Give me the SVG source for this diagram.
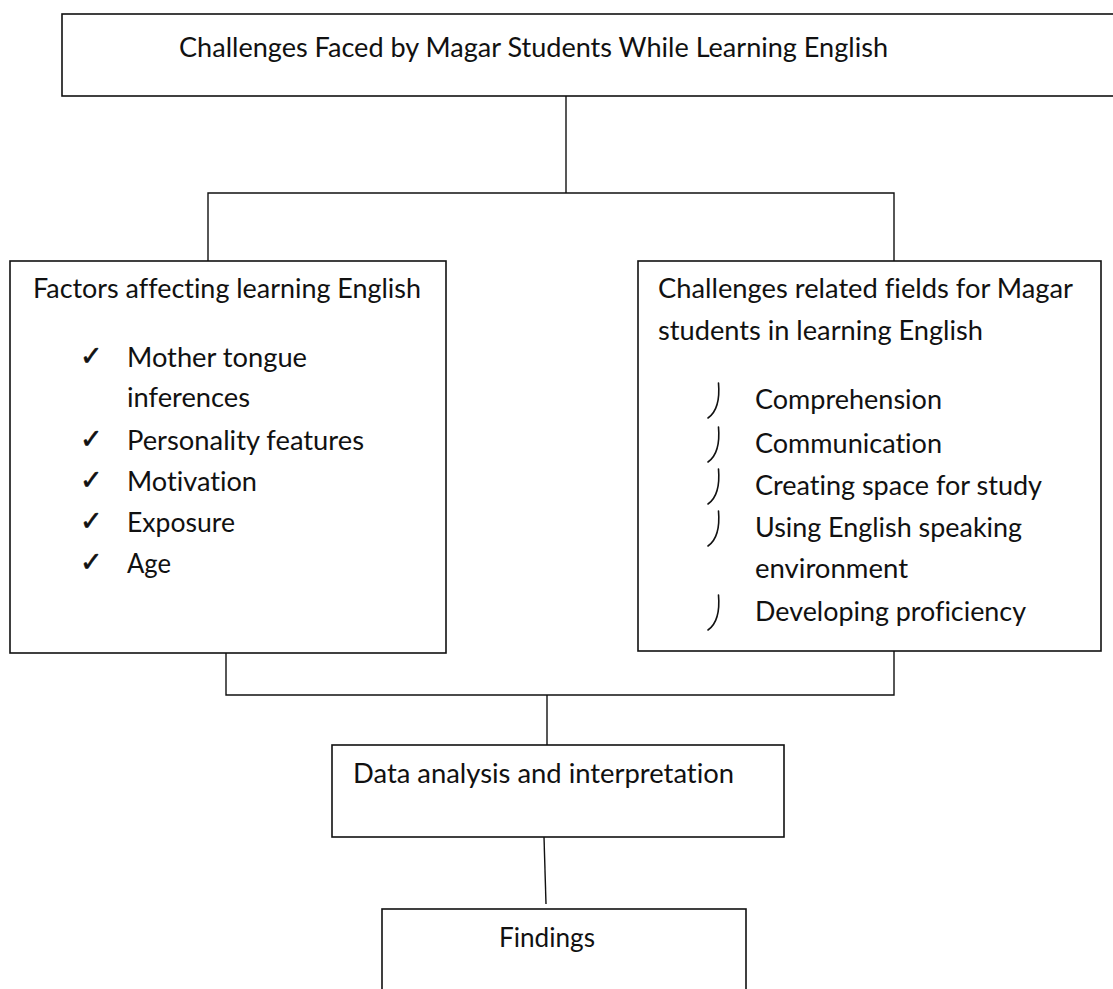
<svg xmlns="http://www.w3.org/2000/svg" xmlns:xlink="http://www.w3.org/1999/xlink" width="1113" height="989" viewBox="0 0 1113 989">
<style>
.box{fill:#fff;stroke:#111;stroke-width:1.6}
.con{fill:none;stroke:#111;stroke-width:1.4}
.t{font-family:Lato,"Liberation Sans",sans-serif;font-size:26px;fill:#111;font-variant-ligatures:none}
.chk{font-family:"DejaVu Sans",sans-serif;font-size:27px;fill:#111;stroke:#111;stroke-width:0.6}
.hook{fill:none;stroke:#111;stroke-width:1.6;stroke-linecap:round}
</style>
<defs>
<path id="hook" class="hook" d="M0,-26 C1.2,-12 -0.5,2 -10.5,9"/>
</defs>
<rect width="1113" height="989" fill="#fff"/>
<g id="connectors">
<path class="con" d="M566,93 V193"/>
<path class="con" d="M208,261 V193 H894 V261"/>
<path class="con" d="M226,653 V695 H894 V651"/>
<path class="con" d="M547,695 V745"/>
<path class="con" d="M544,837 L546,904"/>
</g>
<g id="top">
<rect class="box" x="62" y="14" width="1100" height="82"/>
<text class="t" x="179" y="57" textLength="709" lengthAdjust="spacingAndGlyphs">Challenges Faced by Magar Students While Learning English</text>
</g>
<g id="factors">
<rect class="box" x="10" y="261" width="436" height="392"/>
<text class="t" x="33" y="298" textLength="388" lengthAdjust="spacingAndGlyphs">Factors affecting learning English</text>
<text class="chk" x="80" y="365">✓</text>
<text class="t" x="127" y="367" textLength="180" lengthAdjust="spacingAndGlyphs">Mother tongue</text>
<text class="t" x="127" y="407" textLength="123" lengthAdjust="spacingAndGlyphs">inferences</text>
<text class="chk" x="80" y="448">✓</text>
<text class="t" x="127" y="450" textLength="237" lengthAdjust="spacingAndGlyphs">Personality features</text>
<text class="chk" x="80" y="489">✓</text>
<text class="t" x="127" y="491" textLength="130" lengthAdjust="spacingAndGlyphs">Motivation</text>
<text class="chk" x="80" y="530">✓</text>
<text class="t" x="127" y="532" textLength="108" lengthAdjust="spacingAndGlyphs">Exposure</text>
<text class="chk" x="80" y="571">✓</text>
<text class="t" x="127" y="573" textLength="44" lengthAdjust="spacingAndGlyphs">Age</text>
</g>
<g id="fields">
<rect class="box" x="638" y="261" width="463" height="390"/>
<text class="t" x="658" y="298" textLength="415" lengthAdjust="spacingAndGlyphs">Challenges related fields for Magar</text>
<text class="t" x="658" y="340" textLength="325" lengthAdjust="spacingAndGlyphs">students in learning English</text>
<use xlink:href="#hook" x="718.5" y="409"/>
<text class="t" x="755" y="409" textLength="187" lengthAdjust="spacingAndGlyphs">Comprehension</text>
<use xlink:href="#hook" x="718.5" y="453"/>
<text class="t" x="755" y="453" textLength="187" lengthAdjust="spacingAndGlyphs">Communication</text>
<use xlink:href="#hook" x="718.5" y="495"/>
<text class="t" x="755" y="495" textLength="287" lengthAdjust="spacingAndGlyphs">Creating space for study</text>
<use xlink:href="#hook" x="718.5" y="537"/>
<text class="t" x="755" y="537" textLength="267" lengthAdjust="spacingAndGlyphs">Using English speaking</text>
<text class="t" x="755" y="578" textLength="153" lengthAdjust="spacingAndGlyphs">environment</text>
<use xlink:href="#hook" x="718.5" y="621"/>
<text class="t" x="755" y="621" textLength="271" lengthAdjust="spacingAndGlyphs">Developing proficiency</text>
</g>
<g id="analysis">
<rect class="box" x="332" y="745" width="452" height="92"/>
<text class="t" x="353" y="783" textLength="381" lengthAdjust="spacingAndGlyphs">Data analysis and interpretation</text>
</g>
<g id="findings">
<rect class="box" x="382" y="909" width="364" height="120"/>
<text class="t" x="499" y="947" textLength="96" lengthAdjust="spacingAndGlyphs">Findings</text>
</g>
</svg>
